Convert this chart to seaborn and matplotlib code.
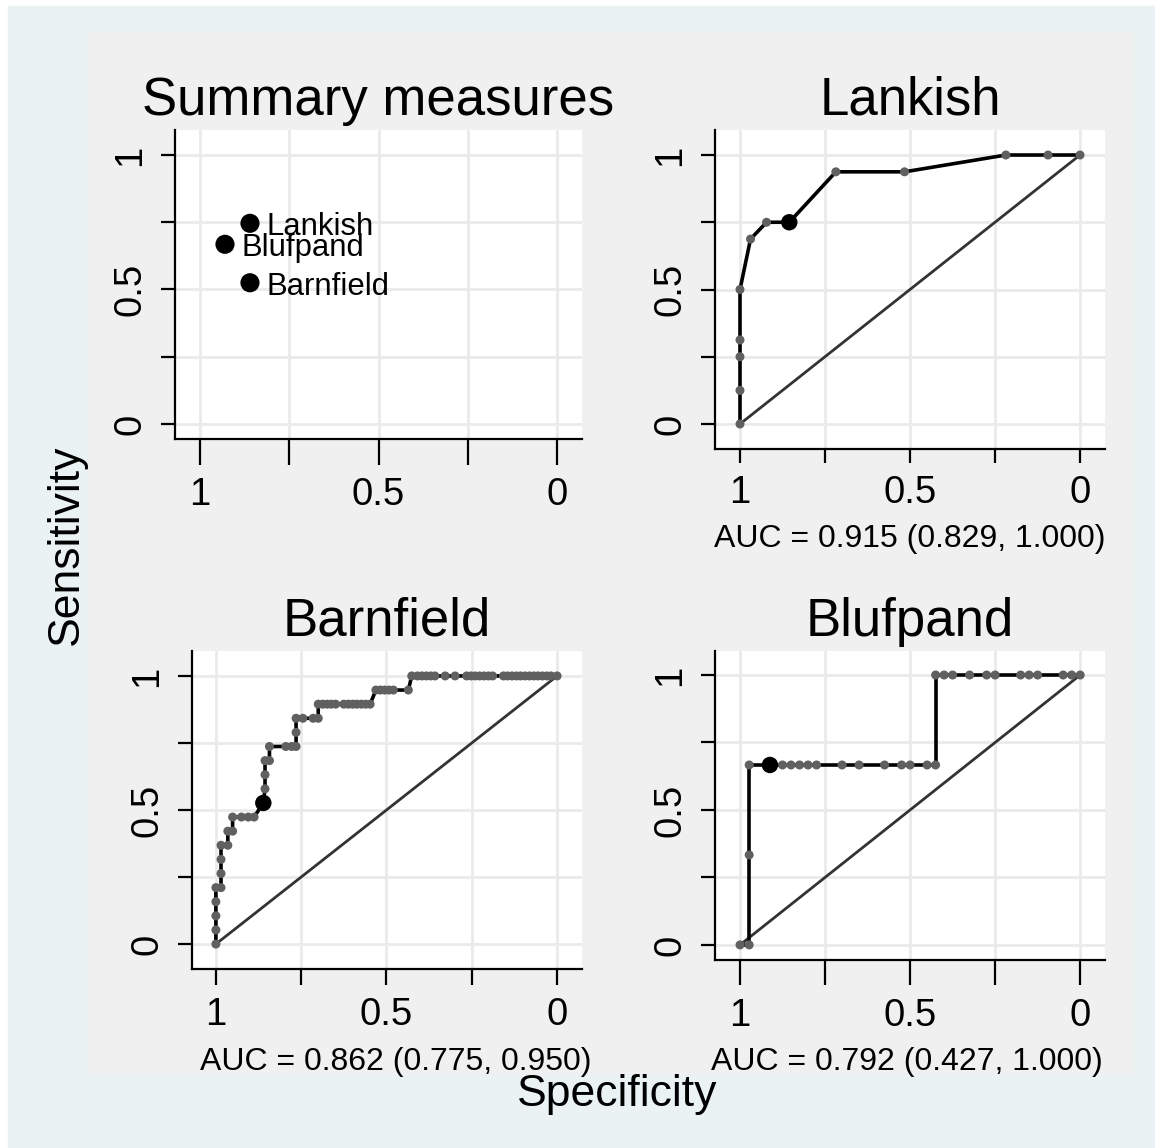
import numpy as np
import pandas as pd
import seaborn as sns
from matplotlib import pyplot as plt
from matplotlib.patches import Rectangle

# figure size in pixels (dpi 100)
W, H = 1155, 1148

sns.set_style("white")
plt.rcParams['font.family'] = ['Liberation Sans', 'DejaVu Sans']
plt.rcParams['text.color'] = 'black'
plt.rcParams['axes.labelcolor'] = 'black'

# summary measures (specificity, sensitivity) of each test
summary_names = ["Lankish", "Blufpand", "Barnfield"]
summary_spec = [0.86, 0.93, 0.86]
summary_sens = [0.746, 0.668, 0.525]

# ROC points
lankish_spec = [1, 1, 1, 1, 1, 0.969, 0.922, 0.855, 0.718, 0.516, 0.218, 0.094, 0]
lankish_sens = [0, 0.125, 0.25, 0.3125, 0.5, 0.6875, 0.75, 0.75, 0.9375, 0.9375, 1, 1, 1]
lankish_cut = (0.855, 0.75)

n19 = 19.0
barnfield_spec = [1, 1, 1, 1, 1, 0.985, 0.985, 0.985, 0.985, 0.965, 0.965, 0.951, 0.951,
                  0.925, 0.905, 0.888, 0.861, 0.856, 0.856, 0.856, 0.843, 0.843, 0.795,
                  0.778, 0.765, 0.765, 0.765, 0.745, 0.715, 0.700,
                  0.700, 0.687, 0.674, 0.662, 0.649, 0.625, 0.612, 0.599, 0.587, 0.574,
                  0.561, 0.548,
                  0.531, 0.518, 0.505, 0.493, 0.480, 0.436,
                  0.426, 0.409, 0.396, 0.383, 0.370, 0.358, 0.328, 0.299, 0.265, 0.252,
                  0.240, 0.227, 0.214, 0.201, 0.189, 0.157, 0.145, 0.132, 0.119, 0.107,
                  0.094, 0.081, 0.068, 0.056, 0.043, 0.030, 0.018, 0]
barnfield_cases = [0, 1, 2, 3, 4, 4, 5, 6, 7, 7, 8, 8, 9, 9, 9, 9, 10, 11, 12, 13, 13, 14, 14,
                   14, 14, 15, 16, 16, 16, 16,
                   17, 17, 17, 17, 17, 17, 17, 17, 17, 17, 17, 17,
                   18, 18, 18, 18, 18, 18,
                   19, 19, 19, 19, 19, 19, 19, 19, 19, 19, 19, 19, 19, 19, 19, 19, 19, 19,
                   19, 19, 19, 19, 19, 19, 19, 19, 19, 19]
barnfield_sens = [c / n19 for c in barnfield_cases]
barnfield_cut = (0.861, 10 / n19)

blufpand_spec = [1, 0.973, 0.973, 0.973, 0.912, 0.875, 0.850, 0.825, 0.800, 0.775, 0.700,
                 0.650, 0.575, 0.525, 0.500, 0.450, 0.425, 0.425, 0.400, 0.375, 0.325,
                 0.275, 0.250, 0.175, 0.150, 0.125, 0.050, 0.025, 0]
blufpand_sens = [0, 0, 1/3, 2/3, 2/3, 2/3, 2/3, 2/3, 2/3, 2/3, 2/3, 2/3, 2/3, 2/3, 2/3,
                 2/3, 2/3, 1, 1, 1, 1, 1, 1, 1, 1, 1, 1, 1, 1]
blufpand_cut = (0.912, 2/3)

auc_texts = {"Lankish": "AUC = 0.915 (0.829, 1.000)",
             "Barnfield": "AUC = 0.862 (0.775, 0.950)",
             "Blufpand": "AUC = 0.792 (0.427, 1.000)"}

diag_x = [1, 0]
diag_y = [0, 1]

tick_vals = [0, 0.25, 0.5, 0.75, 1]
tick_labs = ["0", "", "0.5", "", "1"]

fig = plt.figure(figsize=(W / 100, H / 100), dpi=100, facecolor="white")
fig.patches.append(Rectangle((8 / W, 0), (W - 8) / W, (H - 6) / H, transform=fig.transFigure,
                             color="#EAF2F3", zorder=-3))
fig.patches.append(Rectangle((88 / W, 1 - 1073 / H), (1133 - 88) / W, (1073 - 32) / H,
                             transform=fig.transFigure, color="#F0F0F0", zorder=-2))


def make_ax(l, t, r, b, xlim, ylim, title, xtick_len):
    ax = fig.add_axes([l / W, 1 - b / H, (r - l) / W, (b - t) / H])
    ax.set_facecolor("white")
    ax.set_xlim(*xlim)
    ax.set_ylim(*ylim)
    ax.set_xticks(tick_vals)
    ax.set_xticklabels(tick_labs)
    ax.set_yticks(tick_vals)
    ax.set_yticklabels(tick_labs, rotation=90, va="center")
    ax.grid(True, color="#EAEAEA", lw=2)
    ax.set_axisbelow(True)
    for s in ["top", "right"]:
        ax.spines[s].set_visible(False)
    for s in ["left", "bottom"]:
        ax.spines[s].set_color("black")
        ax.spines[s].set_linewidth(1.6)
    ax.tick_params(direction="out", width=1.6, labelsize=27.5, colors="black",
                   left=True, bottom=True)
    ax.tick_params(axis="x", length=xtick_len, pad=9)
    ax.tick_params(axis="y", length=10, pad=9)
    ax.set_title(title, fontsize=38, pad=11)
    ax.set_xlabel("")
    ax.set_ylabel("")
    return ax


def roc_panel(ax, spec, sens, cut):
    sns.lineplot(x=diag_x, y=diag_y, color="#333333", linewidth=2.0, ax=ax,
                 sort=False, estimator=None)
    sns.lineplot(x=spec, y=sens, color="black", linewidth=2.6, ax=ax,
                 sort=False, estimator=None)
    sns.scatterplot(x=spec, y=sens, color="#606060", s=42, edgecolor="none", ax=ax, zorder=3)
    sns.scatterplot(x=[cut[0]], y=[cut[1]], color="black", s=140, edgecolor="none",
                    ax=ax, zorder=4)


# Summary measures
ax = make_ax(175, 130, 582, 439, (1.070, -0.070), (-0.056, 1.093), "Summary measures", 18.7)
sns.scatterplot(x=summary_spec, y=summary_sens, color="black", s=190, edgecolor="none", ax=ax)
for name, sx, sy in zip(summary_names, summary_spec, summary_sens):
    ax.annotate(name, (sx, sy), xytext=(12, -3), textcoords="offset points",
                ha="left", va="center", fontsize=22.4)

# Lankish
ax = make_ax(715, 130, 1105, 449, (1.0735, -0.0735), (-0.093, 1.093), "Lankish", 10)
roc_panel(ax, lankish_spec, lankish_sens, lankish_cut)

# Barnfield
ax = make_ax(192, 651, 582, 969, (1.070, -0.073), (-0.093, 1.093), "Barnfield", 11.5)
roc_panel(ax, barnfield_spec, barnfield_sens, barnfield_cut)

# Blufpand
ax = make_ax(715, 651, 1105, 960, (1.0735, -0.073), (-0.056, 1.089), "Blufpand", 18)
roc_panel(ax, blufpand_spec, blufpand_sens, blufpand_cut)

fig.text(910 / W, 1 - 547 / H, auc_texts["Lankish"], ha="center", va="baseline", fontsize=23)
fig.text(396 / W, 1 - 1070 / H, auc_texts["Barnfield"], ha="center", va="baseline", fontsize=23)
fig.text(907 / W, 1 - 1070 / H, auc_texts["Blufpand"], ha="center", va="baseline", fontsize=23)

fig.text(66 / W, 1 - 545 / H, "Sensitivity", rotation=90, ha="center", va="center", fontsize=32)
fig.text(617 / W, 1 - 1106 / H, "Specificity", ha="center", va="baseline", fontsize=32)

fig.savefig("out.png", dpi=100, facecolor=fig.get_facecolor())
